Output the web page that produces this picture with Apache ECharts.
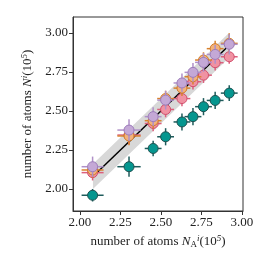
<!DOCTYPE html>
<html><head><meta charset="utf-8">
<script src="https://cdn.jsdelivr.net/npm/echarts@6/dist/echarts.min.js"></script>
<style>html,body{margin:0;padding:0;background:#fff}#c{width:273px;height:273px}</style>
</head><body><div id="c"></div>
<script>
// ---- data ----
const xTicks = [2.00, 2.25, 2.50, 2.75, 3.00];
const yTicks = [2.00, 2.25, 2.50, 2.75, 3.00];
const xAll = [2.078, 2.303, 2.452, 2.529, 2.630, 2.698, 2.763, 2.835, 2.922];
const tealY   = [1.960, 2.143, 2.260, 2.335, 2.430, 2.464, 2.528, 2.568, 2.615];
const pinkY   = [2.105, 2.346, 2.420, 2.510, 2.580, 2.688, 2.730, 2.810, 2.848];
const orangeY = [2.122, 2.340, 2.438, 2.580, 2.647, 2.720, 2.827, 2.900, 2.934];
const purpleY = [2.143, 2.378, 2.464, 2.570, 2.680, 2.748, 2.812, 2.863, 2.928];
const xErr = [0.068, 0.072, 0.052, 0.052, 0.052, 0.052, 0.052, 0.052, 0.052];
const tealYErr   = [0.040, 0.065, 0.050, 0.055, 0.055, 0.055, 0.055, 0.055, 0.050];
const pinkYErr   = [0.050, 0.060, 0.050, 0.050, 0.050, 0.050, 0.050, 0.050, 0.045];
const orangeYErr = [0.050, 0.060, 0.050, 0.050, 0.050, 0.050, 0.050, 0.050, 0.065];
const purpleYErr = [0.065, 0.070, 0.060, 0.060, 0.060, 0.060, 0.060, 0.060, 0.065];
const bandX    = [2.08, 2.92];
const bandLow  = [2.00, 2.84];
const bandHigh = [2.16, 3.00];
const lineX = [2.08, 2.92];
const lineY = [2.08, 2.92];

const FONT = 'Liberation Serif';
const chart = echarts.init(document.getElementById('c'), null, {renderer:'canvas'});

function errSeries(ys, yerr, color, z) {
  return {
    type: 'custom', z: z, silent: true,
    dimensions: ['x', 'y'],
    encode: {x: 0, y: 1},
    data: xAll.map((x, i) => [x, ys[i]]),
    renderItem: function (params, api) {
      const i = params.dataIndex;
      const x = api.value(0), y = api.value(1), ex = xErr[i], ey = yerr[i];
      const l = api.coord([x - ex, y]), r = api.coord([x + ex, y]);
      const t = api.coord([x, y + ey]), b = api.coord([x, y - ey]);
      const st = {stroke: color, lineWidth: 1.5, fill: null};
      return {type: 'group', children: [
        {type: 'line', shape: {x1: l[0], y1: l[1], x2: r[0], y2: r[1]}, style: st},
        {type: 'line', shape: {x1: t[0], y1: t[1], x2: b[0], y2: b[1]}, style: st}
      ]};
    }
  };
}
function ptSeries(ys, fill, edge, z) {
  return {
    type: 'scatter', z: z, symbol: 'circle', symbolSize: 10,
    data: xAll.map((x, i) => [x, ys[i]]),
    itemStyle: {color: fill, borderColor: edge, borderWidth: 1, opacity: 1}
  };
}

chart.setOption({
  animation: false,
  grid: {left: 73, right: 30, top: 17, bottom: 62, show: true, borderColor: '#333', borderWidth: 1},
  xAxis: {
    type: 'value', min: 1.957, max: 3.007,
    name: '{t|number of atoms }{i|N}{s|A}{p|i}{t|(10}{p|5}{t|)}',
    nameLocation: 'middle', nameGap: 23,
    nameTextStyle: {rich: {
      t: {fontFamily: FONT, fontSize: 13, color: '#222'},
      i: {fontFamily: FONT, fontSize: 13, fontStyle: 'italic', color: '#222'},
      s: {fontFamily: FONT, fontSize: 9, color: '#222', padding: [6, 0, 0, 0]},
      p: {fontFamily: FONT, fontSize: 9, fontStyle: 'italic', color: '#222', padding: [0, 0, 7, 0]}
    }},
    splitLine: {show: false},
    axisLine: {show: true, onZero: false, lineStyle: {color: '#333'}},
    axisTick: {show: true, length: 4, customValues: xTicks, lineStyle: {color: '#333'}},
    axisLabel: {customValues: xTicks, formatter: v => v.toFixed(2), fontFamily: FONT, fontSize: 13, color: '#222', margin: 5}
  },
  yAxis: {
    type: 'value', min: 1.859, max: 3.103,
    name: '{t|number of atoms }{i|N}{p|i}{t|(10}{p|5}{t|)}',
    nameLocation: 'middle', nameGap: 35,
    nameTextStyle: {rich: {
      t: {fontFamily: FONT, fontSize: 13, color: '#222'},
      i: {fontFamily: FONT, fontSize: 13, fontStyle: 'italic', color: '#222'},
      p: {fontFamily: FONT, fontSize: 9, fontStyle: 'italic', color: '#222', padding: [0, 0, 7, 0]}
    }},
    splitLine: {show: false},
    axisLine: {show: true, onZero: false, lineStyle: {color: '#333'}},
    axisTick: {show: true, length: 4, customValues: yTicks, lineStyle: {color: '#333'}},
    axisLabel: {customValues: yTicks, formatter: v => v.toFixed(2), fontFamily: FONT, fontSize: 13, color: '#222', margin: 5}
  },
  series: [
    {
      type: 'custom', z: 1, silent: true,
      data: [[bandX[0], bandLow[0]]],
      renderItem: function (params, api) {
        const pts = [];
        for (let i = 0; i < bandX.length; i++) pts.push(api.coord([bandX[i], bandLow[i]]));
        for (let i = bandX.length - 1; i >= 0; i--) pts.push(api.coord([bandX[i], bandHigh[i]]));
        return {type: 'polygon', shape: {points: pts}, style: {fill: '#d8d8d8'}};
      }
    },
    {
      type: 'line', z: 2, symbol: 'none', silent: true,
      data: lineX.map((x, i) => [x, lineY[i]]),
      lineStyle: {color: '#000', width: 1.5}
    },
    errSeries(tealY, tealYErr, '#1f5c5c', 3),
    ptSeries(tealY, '#05968f', '#1f5050', 4),
    errSeries(pinkY, pinkYErr, '#dc5f7c', 5),
    ptSeries(pinkY, '#f092a2', '#d24f6c', 6),
    errSeries(orangeY, orangeYErr, '#d8822e', 7),
    ptSeries(orangeY, '#f2b27c', '#d07a28', 8),
    errSeries(purpleY, purpleYErr, '#b090c8', 9),
    ptSeries(purpleY, '#c4a8d6', '#9c7cba', 10)
  ]
});
</script></body></html>
